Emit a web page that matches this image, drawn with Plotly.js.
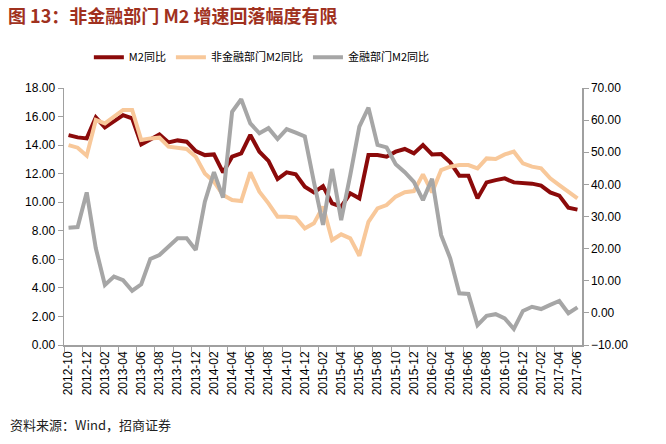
<!DOCTYPE html>
<html>
<head>
<meta charset="utf-8">
<script src="https://cdn.plot.ly/plotly-3.0.1.min.js"></script>
<style>html,body{margin:0;padding:0;background:#fff;}#chart{width:666px;height:444px;}</style>
</head>
<body>
<div id="chart"></div>
<script>
const months = ["2012-10","2012-11","2012-12","2013-01","2013-02","2013-03","2013-04","2013-05","2013-06","2013-07","2013-08","2013-09","2013-10","2013-11","2013-12",
"2014-01","2014-02","2014-03","2014-04","2014-05","2014-06","2014-07","2014-08","2014-09","2014-10","2014-11","2014-12",
"2015-01","2015-02","2015-03","2015-04","2015-05","2015-06","2015-07","2015-08","2015-09","2015-10","2015-11","2015-12",
"2016-01","2016-02","2016-03","2016-04","2016-05","2016-06","2016-07","2016-08","2016-09","2016-10","2016-11","2016-12",
"2017-01","2017-02","2017-03","2017-04","2017-05","2017-06"];

const m2Yoy = [14.7,14.54,14.47,15.94,15.24,15.71,16.1,15.87,14.05,14.4,14.75,14.19,14.33,14.24,13.58,
13.3,13.35,12.09,13.19,13.42,14.71,13.54,12.89,11.62,12.09,11.95,11.09,
10.69,11.13,9.92,9.69,10.62,10.27,13.3,13.3,13.19,13.54,13.73,13.42,
14.0,13.35,13.37,12.79,11.86,11.86,10.27,11.39,11.55,11.67,11.39,11.37,
11.3,11.16,10.69,10.46,9.62,9.48];

const nonFinM2Yoy = [14.0,13.82,13.26,15.76,15.52,15.99,16.46,16.46,14.36,14.47,14.52,13.89,13.84,13.73,13.19,
12.02,11.44,10.5,10.15,10.08,12.09,10.74,9.92,8.99,8.99,8.92,8.17,
8.52,9.69,7.35,7.75,7.47,6.25,8.63,9.57,9.8,10.39,10.7,10.78,
11.95,10.69,12.25,12.49,12.6,12.6,12.37,13.07,13.03,13.35,13.54,12.72,
12.49,12.37,11.67,11.2,10.69,10.27];

const finM2Yoy = [26.5,26.7,37.5,20.1,8.7,11.3,10.2,6.9,8.9,16.8,18.0,20.6,23.2,23.2,19.6,
34.6,43.8,35.9,62.6,66.5,59.0,55.9,57.5,54.1,57.2,56.1,54.9,
40.8,27.4,44.8,28.9,42.9,58.0,63.9,52.3,51.5,46.3,43.8,40.8,
35.1,41.7,24.2,17.0,6.1,5.9,-3.8,-0.9,-0.4,-1.7,-5.0,0.6,
1.9,1.2,2.5,3.7,-0.1,1.7];

const seriesNames = ["M2同比","非金融部门M2同比","金融部门M2同比"];
const colors = ["#8B0A0A","#F8C89A","#A6A6A6"];

const traces = [
  {x: months, y: m2Yoy, name: seriesNames[0], type: "scatter", mode: "lines", line: {color: colors[0], width: 4}},
  {x: months, y: nonFinM2Yoy, name: seriesNames[1], type: "scatter", mode: "lines", line: {color: colors[1], width: 4}},
  {x: months, y: finM2Yoy, name: seriesNames[2], type: "scatter", mode: "lines", yaxis: "y2", line: {color: colors[2], width: 4}}
];

const axisGray = "#A0A0A0";
const tickFont = {family: "Liberation Sans, Arial, sans-serif", size: 12, color: "#000"};

const layout = {
  width: 666, height: 444,
  paper_bgcolor: "#fff", plot_bgcolor: "#fff",
  margin: {l: 64, r: 84, t: 88, b: 99},
  title: {
    text: "<b>图 13：非金融部门 M2 增速回落幅度有限</b>",
    font: {family: "Noto Sans CJK SC, sans-serif", size: 18, color: "#A0311E"},
    xref: "container", yref: "container", x: 0.012, xanchor: "left", y: 0.962, yanchor: "middle"
  },
  showlegend: true,
  legend: {
    orientation: "h", xref: "paper", yref: "paper", x: 0.048, xanchor: "left", y: 1.12, yanchor: "middle",
    font: {family: "Noto Sans CJK SC, sans-serif", size: 11, color: "#000"},
    bgcolor: "rgba(0,0,0,0)", itemwidth: 30
  },
  xaxis: {
    type: "category", tickmode: "linear", tick0: 0, dtick: 2,
    tickson: "boundaries", ticks: "outside", ticklen: 5, tickcolor: axisGray, tickwidth: 1,
    tickangle: -90, tickfont: tickFont,
    showline: true, linecolor: axisGray, linewidth: 1.5,
    showgrid: false, zeroline: false, range: [-0.5, 56.5], fixedrange: true
  },
  yaxis: {
    range: [0, 18], tickmode: "linear", tick0: 0, dtick: 2, tickformat: ".2f",
    ticks: "outside", ticklen: 5, tickcolor: axisGray, tickfont: tickFont,
    showline: true, linecolor: axisGray, linewidth: 1.5,
    showgrid: false, zeroline: false
  },
  yaxis2: {
    overlaying: "y", side: "right",
    range: [-10, 70], tickmode: "linear", tick0: -10, dtick: 10, tickformat: ".2f",
    ticks: "outside", ticklen: 5, tickcolor: axisGray, tickfont: tickFont,
    showline: true, linecolor: axisGray, linewidth: 1.5,
    showgrid: false, zeroline: false
  },
  annotations: [{
    text: "资料来源：Wind，招商证券", xref: "paper", yref: "paper",
    x: -0.108, xanchor: "left", y: -0.311, yanchor: "middle", showarrow: false,
    font: {family: "Noto Sans CJK SC, sans-serif", size: 13, color: "#222"}
  }]
};

Plotly.newPlot("chart", traces, layout, {displayModeBar: false, staticPlot: true});
</script>
</body>
</html>
